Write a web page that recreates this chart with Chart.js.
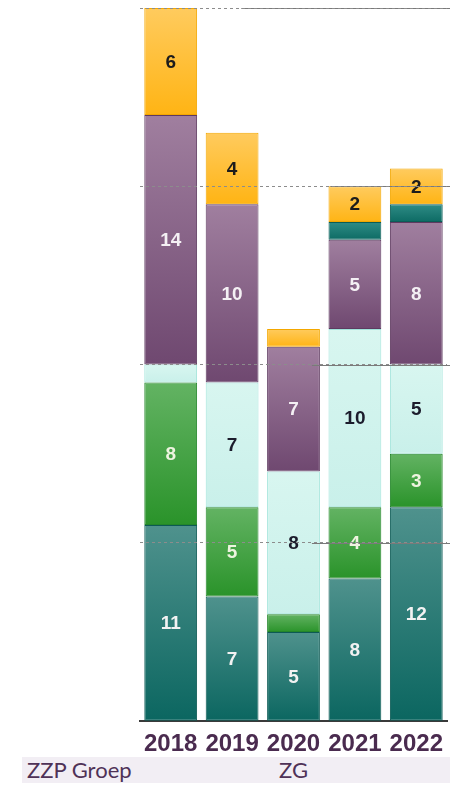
<!DOCTYPE html>
<html>
<head>
<meta charset="utf-8">
<script src="https://cdn.jsdelivr.net/npm/chart.js@4"></script>
<style>
  body { margin: 0; background: #fff; }
  .wrap { position: relative; width: 454px; height: 786px; }
  canvas { position: absolute; left: 0; top: 0; }
  .band {
    position: absolute; left: 22px; top: 757px; width: 428px; height: 26px;
    background: #f2eef4;
    font-family: Lato, 'Open Sans', sans-serif; font-size: 22px; line-height: 26px; color: #4f3257;
  }
  .band span { position: absolute; top: 0; }
</style>
</head>
<body>
<div class="wrap">
  <div class="band"><span style="left:5px">ZZP Groep</span><span style="left:257px">ZG</span></div>
  <canvas id="zzpChart" width="454" height="760"></canvas>
</div>
<script>
const years = ['2018', '2019', '2020', '2021', '2022'];
const tealVals = [11, 7, 5, 8, 12];
const greenVals = [8, 5, 1, 4, 3];
const cyanVals = [1, 7, 8, 10, 5];
const purpleVals = [14, 10, 7, 5, 8];
const darkTealVals = [0, 0, 0, 1, 1];
const yellowVals = [6, 4, 1, 2, 2];
const yTicks = [0, 10, 20, 30, 40];

const stackOrder = [tealVals, greenVals, cyanVals, purpleVals, darkTealVals, yellowVals];

// vertical gradient per segment, computed from the y scale
function grad(top, bottom) {
  return (c) => {
    const chart = c.chart;
    const y = chart.scales.y;
    if (!y || c.dataIndex === undefined) return bottom;
    let start = 0;
    for (let i = 0; i < c.datasetIndex; i++) start += stackOrder[i][c.dataIndex];
    const end = start + stackOrder[c.datasetIndex][c.dataIndex];
    const y0 = y.getPixelForValue(start), y1 = y.getPixelForValue(end);
    if (!isFinite(y0) || !isFinite(y1) || y0 === y1) return bottom;
    const g = chart.ctx.createLinearGradient(0, y1, 0, y0);
    g.addColorStop(0, top);
    g.addColorStop(1, bottom);
    return g;
  };
}

function ds(label, data, top, bottom, border, textColor) {
  return {
    label, data,
    backgroundColor: grad(top, bottom),
    borderColor: border,
    borderWidth: 1,
    borderSkipped: false,
    labelColor: textColor
  };
}

// labels in the middle of each segment
const segLabels = {
  id: 'segLabels',
  afterDatasetsDraw(chart) {
    const ctx = chart.ctx;
    ctx.save();
    ctx.font = 'bold 19px "Liberation Sans", Arial, sans-serif';
    ctx.textAlign = 'center';
    ctx.textBaseline = 'middle';
    chart.data.datasets.forEach((d, di) => {
      chart.getDatasetMeta(di).data.forEach((bar, i) => {
        const v = d.data[i];
        if (v < 2) return;
        ctx.fillStyle = d.labelColor;
        ctx.fillText(String(v), bar.x, (bar.y + bar.base) / 2 + 1);
      });
    });
    ctx.restore();
  }
};

// solid part of the gridlines on the right side
const solidStart = { 10: 0.56, 20: 0.56, 30: 0.62, 40: 0.33 };
const solidGrid = {
  id: 'solidGrid',
  afterDatasetsDraw(chart) {
    const { ctx, chartArea } = chart;
    const y = chart.scales.y;
    ctx.save();
    ctx.strokeStyle = '#7a7a7a';
    ctx.lineWidth = 1.2;
    Object.keys(solidStart).forEach(v => {
      const py = Math.round(y.getPixelForValue(+v)) + 0.5;
      const x0 = chartArea.left + solidStart[v] * (chartArea.right - chartArea.left);
      ctx.beginPath();
      ctx.moveTo(x0, py);
      ctx.lineTo(chartArea.right + 3, py);
      ctx.stroke();
    });
    ctx.restore();
  }
};

new Chart(document.getElementById('zzpChart'), {
  type: 'bar',
  data: {
    labels: years,
    datasets: [
      ds('Teal', tealVals, '#4f928d', '#0b6660', '#0c5a54', '#f2f2f2'),
      ds('Groen', greenVals, '#63b363', '#2a932a', '#23862a', '#eef4e0'),
      ds('Lichtblauw', cyanVals, '#d8f6f0', '#c9f0ea', '#a0e4da', '#1c1c2c'),
      ds('Paars', purpleVals, '#a07f9f', '#6f4870', '#5e3a60', '#f4f0f4'),
      ds('Donker teal', darkTealVals, '#2f8c86', '#0d6b64', '#0b5d57', '#ffffff'),
      ds('Geel', yellowVals, '#ffcb5e', '#ffb414', '#f3a700', '#1c1c1c')
    ]
  },
  options: {
    responsive: false,
    animation: false,
    layout: { padding: { left: 140, right: 7, top: 8, bottom: 0 } },
    plugins: {
      legend: { display: false },
      tooltip: { enabled: false }
    },
    datasets: {
      bar: { categoryPercentage: 1, barPercentage: 0.86 }
    },
    scales: {
      x: {
        stacked: true,
        grid: { display: false },
        border: { display: true, color: '#3a3a3a', width: 2 },
        ticks: {
          color: '#4a2b4f',
          padding: 1,
          font: { size: 24, weight: 'bold', family: '"Liberation Sans", Arial, sans-serif' }
        }
      },
      y: {
        stacked: true,
        min: 0,
        max: 40,
        afterBuildTicks: (axis) => { axis.ticks = yTicks.map(v => ({ value: v })); },
        ticks: { display: false },
        border: { display: false, dash: [3, 3] },
        grid: {
          z: 1,
          drawTicks: false,
          color: (c) => c.tick && c.tick.value === 0 ? 'rgba(0,0,0,0)' : '#8c8c8c',
          lineWidth: 1
        }
      }
    }
  },
  plugins: [solidGrid, segLabels]
});
</script>
</body>
</html>
